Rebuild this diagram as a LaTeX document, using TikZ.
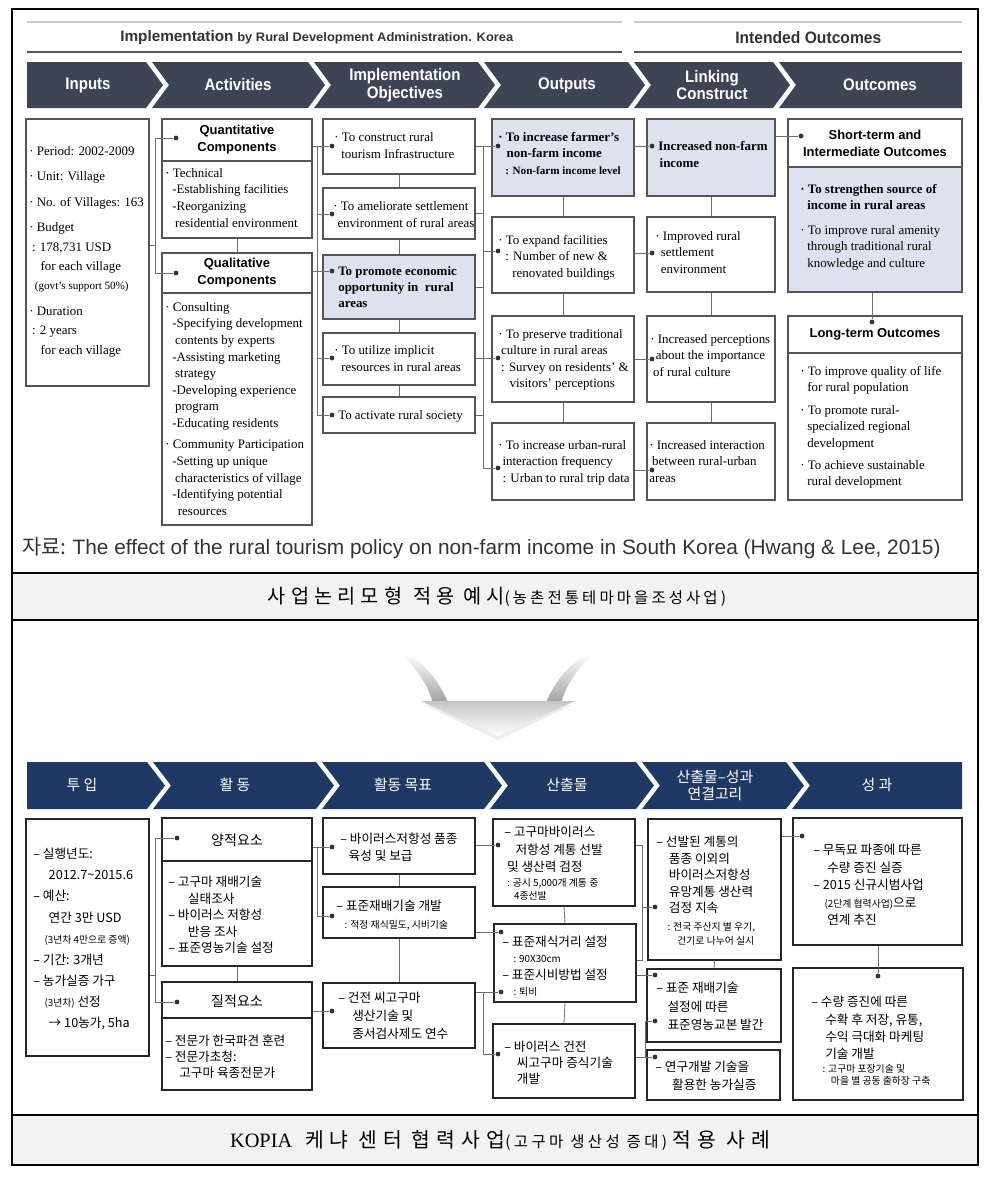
\documentclass[tikz,border=0pt]{standalone}
\usepackage{fontspec}
\setmainfont{Liberation Serif}
\newfontfamily\sansf{Liberation Sans}
\newfontfamily\hdrf[FakeStretch=0.9]{Liberation Sans}
\newfontfamily\krf{Noto Sans CJK KR}
\newfontfamily\krA[LetterSpace=26]{Noto Sans CJK KR}
\newfontfamily\krB[LetterSpace=20]{Noto Sans CJK KR}
\newfontfamily\krC[LetterSpace=30]{Noto Sans CJK KR}
\newfontfamily\krD[LetterSpace=22]{Noto Sans CJK KR}
\usetikzlibrary{fit,calc}
\definecolor{bannerA}{HTML}{3D4453}
\definecolor{bannerB}{HTML}{1F3964}
\definecolor{lblue}{HTML}{DCE3EE}
\definecolor{bordA}{HTML}{555555}
\definecolor{bordB}{HTML}{262626}
\definecolor{capgray}{HTML}{F2F2F2}
\definecolor{conA}{HTML}{6E6E6E}
\definecolor{ttlc}{HTML}{333333}
\newcommand\fsz[2]{\fontsize{#1}{#2}\selectfont}
\begin{document}
\begin{tikzpicture}[x=0.025cm,y=-0.025cm,
  boxA/.style={draw=bordA,line width=1pt,inner sep=0pt},
  boxB/.style={draw=bordB,line width=0.85pt,inner sep=0pt},
  con/.style={draw=conA,line width=0.6pt},
  dotn/.style={circle,fill=black!80,inner sep=0pt,minimum size=3.4pt},
  tx/.style={inner sep=0pt,align=left,anchor=north west},
  tA/.style={tx,font=\fsz{9.2}{11.8}},
  hA/.style={inner sep=0pt,align=center,font=\sansf\bfseries\fsz{9.2}{12.2}},
  kA/.style={tx,font=\krf\fsz{9}{13.8}},
  kH/.style={inner sep=0pt,font=\krf\fsz{10}{12}},
  bnA/.style={inner sep=0pt,align=center,text=white,font=\hdrf\bfseries\fsz{11.9}{12.5}},
  bnB/.style={inner sep=0pt,align=center,text=white,font=\krf\fsz{10.6}{12}}]
\useasboundingbox (0,0) rectangle (1000,1177);

% ---------- frame and caption bands ----------
\fill[capgray] (12,573) rectangle (978,620);
\fill[capgray] (12,1115) rectangle (978,1165);
\draw[line width=0.9pt] (12,9) rectangle (978,1165);
\draw[line width=0.9pt] (12,573) -- (978,573);
\draw[line width=0.9pt] (12,620) -- (978,620);
\draw[line width=0.9pt] (12,1115) -- (978,1115);

% ---------- top header ----------
\draw[line width=1.4pt,gray!40] (27,22) -- (622,22) (634,22) -- (962,22);
\draw[line width=1.1pt,gray!70!black] (27,52) -- (622,52) (634,52) -- (962,52);
\node[inner sep=0pt,anchor=base west,text=ttlc] (ttl1) at (120,41) {\resizebox{2.83cm}{0.275cm}{\sansf\bfseries Implementation}};
\node[inner sep=0pt,anchor=base west,text=ttlc] (ttl2) at (237,41) {\resizebox{6.9cm}{0.225cm}{\sansf\bfseries by Rural Development Administration. Korea}};
\node[inner sep=0pt,anchor=base west,text=ttlc] (ttl3) at (735,43) {\resizebox{3.65cm}{0.3cm}{\sansf\bfseries Intended Outcomes}};

% ---------- top banner ----------
\fill[bannerA] (27,62) -- (146,62) -- (163,85) -- (146,108) -- (27,108) -- cycle;
\fill[bannerA] (152,62) -- (308,62) -- (325,85) -- (308,108) -- (152,108) -- (169,85) -- cycle;
\fill[bannerA] (314,62) -- (478,62) -- (495,85) -- (478,108) -- (314,108) -- (331,85) -- cycle;
\fill[bannerA] (484,62) -- (628,62) -- (645,85) -- (628,108) -- (484,108) -- (501,85) -- cycle;
\fill[bannerA] (634,62) -- (773,62) -- (790,85) -- (773,108) -- (634,108) -- (651,85) -- cycle;
\fill[bannerA] (779,62) -- (962,62) -- (962,108) -- (779,108) -- (796,85) -- cycle;
\node[bnA] (h1) at (88,85) {Inputs};
\node[bnA] (h2) at (238,85) {Activities};
\node[bnA] (h3) at (405,85) {Implementation\\Objectives};
\node[bnA] (h4) at (567,85) {Outputs};
\node[bnA] (h5) at (712,85) {Linking\\Construct};
\node[bnA] (h6) at (880,85) {Outcomes};

% ---------- top boxes ----------
\node[boxA,fit={(26,119) (149,386)}] (in1) {};
\node[boxA,fit={(162,119) (312,238)}] (q1) {};
\node[boxA,fit={(162,253) (312,525)}] (q2) {};
\draw[bordA,line width=1pt] (q1.west|-0,161) -- (q1.east|-0,161);
\draw[bordA,line width=1pt] (q2.west|-0,293) -- (q2.east|-0,293);

\node[boxA,fit={(323,119) (475,174)}] (o1) {};
\node[boxA,fit={(323,188) (475,239)}] (o2) {};
\node[boxA,fill=lblue,fit={(323,255) (475,319)}] (o3) {};
\node[boxA,fit={(323,333) (475,385)}] (o4) {};
\node[boxA,fit={(323,397) (475,433)}] (o5) {};

\node[boxA,fill=lblue,fit={(492,119) (634,196)}] (p1) {};
\node[boxA,fit={(492,217) (634,293)}] (p2) {};
\node[boxA,fit={(492,316) (634,402)}] (p3) {};
\node[boxA,fit={(492,423) (634,500)}] (p4) {};

\node[boxA,fill=lblue,fit={(647,119) (775,196)}] (l1) {};
\node[boxA,fit={(647,217) (775,292)}] (l2) {};
\node[boxA,fit={(647,316) (775,402)}] (l3) {};
\node[boxA,fit={(647,423) (775,500)}] (l4) {};

\fill[lblue] (788,167) rectangle (962,292);
\node[boxA,fit={(788,119) (962,292)}] (s1) {};
\node[boxA,fit={(788,316) (962,500)}] (s2) {};
\draw[bordA,line width=1pt] (s1.west|-0,167) -- (s1.east|-0,167);
\draw[bordA,line width=1pt] (s2.west|-0,353) -- (s2.east|-0,353);

% ---------- top texts ----------
\node[tA,font=\fsz{9.2}{13.8}] (in1t) at (29,146) {· Period: 2002-2009\\[4.3pt]· Unit: Village\\[4.3pt]· No. of Villages: 163\\[4.3pt]· Budget\\\hspace*{2pt}: 178,731 USD\\\hspace*{8pt}for each village\\\hspace*{4pt}{\fsz{7.9}{9}(govt’s support 50\%)}\\[4.3pt]· Duration\\\hspace*{2pt}: 2 years\\\hspace*{8pt}for each village};
\node[hA] (q1h) at (237,140) {Quantitative\\Components};
\node[tA] (q1t) at (165,168) {· Technical\\\hspace*{5pt}-Establishing facilities\\\hspace*{5pt}-Reorganizing\\\hspace*{7pt}residential environment};
\node[hA] (q2h) at (237,273) {Qualitative\\Components};
\node[tA] (q2t) at (165,302) {· Consulting\\\hspace*{5pt}-Specifying development\\\hspace*{7pt}contents by experts\\\hspace*{5pt}-Assisting marketing\\\hspace*{7pt}strategy\\\hspace*{5pt}-Developing experience\\\hspace*{7pt}program\\\hspace*{5pt}-Educating residents\\[3.5pt]· Community Participation\\\hspace*{5pt}-Setting up unique\\\hspace*{7pt}characteristics of village\\\hspace*{5pt}-Identifying potential\\\hspace*{9pt}resources};

\node[tA,font=\fsz{9.2}{12}] (o1t) at (334,132) {· To construct rural\\\hspace*{5pt}tourism Infrastructure};
\node[tA,font=\fsz{9.2}{12}] (o2t) at (333,201) {· To ameliorate settlement\\\hspace*{3pt}environment of rural areas};
\node[tA,font=\bfseries\fsz{9.2}{11.6}] (o3t) at (338,266) {To promote economic\\opportunity in\ \ rural\\areas};
\node[tA,font=\fsz{9.2}{12}] (o4t) at (334,345) {· To utilize implicit\\\hspace*{5pt}resources in rural areas};
\node[tA] (o5t) at (338,410) {To activate rural society};

\node[tA,font=\bfseries\fsz{9.2}{11.7}] (p1t) at (498,132) {· To increase farmer’s\\\hspace*{6pt}non-farm income\\\hspace*{5pt}{\fsz{7.9}{9}: Non-farm income level}};
\node[tA,font=\fsz{9.2}{11.7}] (p2t) at (498,235) {· To expand facilities\\\hspace*{5pt}: Number of new \&\\\hspace*{10pt}renovated buildings};
\node[tA,font=\fsz{9.2}{11.7}] (p3t) at (498,329) {· To preserve traditional\\\hspace*{2pt}culture in rural areas\\\hspace*{2pt}: Survey on residents’ \&\\\hspace*{8pt}visitors’ perceptions};
\node[tA,font=\fsz{9.2}{11.7}] (p4t) at (498,440) {· To increase urban-rural\\\hspace*{3pt}interaction frequency\\\hspace*{3pt}: Urban to rural trip data};

\node[tA,font=\bfseries\fsz{9.2}{12}] (l1t) at (658,141) {Increased non-farm\\\hspace*{1pt}income};
\node[tA,font=\fsz{9.2}{11.7}] (l2t) at (655,231) {· Improved rural\\\hspace*{4pt}settlement\\\hspace*{4pt}environment};
\node[tA,font=\fsz{9.2}{11.7}] (l3t) at (650,334) {· Increased perceptions\\\hspace*{4pt}about the importance\\\hspace*{2pt}of rural culture};
\node[tA,font=\fsz{9.2}{11.7}] (l4t) at (649,440) {· Increased interaction\\\hspace*{2pt}between rural-urban\\areas};

\node[hA] (s1h) at (875,143) {Short-term and\\Intermediate Outcomes};
\node[tA] (s1t) at (800,184) {\textbf{· To strengthen source of}\\\hspace*{5pt}\textbf{income in rural areas}\\[5.5pt]· To improve rural amenity\\\hspace*{5pt}through traditional rural\\\hspace*{5pt}knowledge and culture};
\node[hA] (s2h) at (875,334) {Long-term Outcomes};
\node[tA] (s2t) at (800,366) {· To improve quality of life\\\hspace*{5pt}for rural population\\[3.9pt]· To promote rural-\\\hspace*{5pt}specialized regional\\\hspace*{5pt}development\\[3.9pt]· To achieve sustainable\\\hspace*{5pt}rural development};

% ---------- top connectors ----------
\node[dotn] (qd1) at (176,138) {};
\node[dotn] (qd2) at (176,273) {};
\coordinate (inj) at (155,245);
\draw[con] (in1.east|-inj) -- (inj);
\draw[con] (inj|-qd1) -- (inj|-qd2);
\draw[con] (inj|-qd1) -- (qd1);
\draw[con] (inj|-qd2) -- (qd2);
\draw[con] (q1.south) -- (q2.north);

\node[dotn] (od1) at (332,146) {};
\node[dotn] (od2) at (332,214) {};
\node[dotn] (od3) at (332,271) {};
\node[dotn] (od4) at (332,358) {};
\node[dotn] (od5) at (332,415) {};
\coordinate (bA) at (317,0);
\draw[con] (q1.east|-od1) -- (od1);
\draw[con] (bA|-od1) -- (bA|-od5) -- (od5);
\draw[con] (bA|-od2) -- (od2);
\draw[con] (q2.east|-od3) -- (od3);
\draw[con] (bA|-od4) -- (od4);
\draw[con] (o1.south) -- (o2.north);
\draw[con] (o2.south) -- (o3.north);
\draw[con] (o3.south) -- (o4.north);
\draw[con] (o4.south) -- (o5.north);

\node[dotn] (pd1) at (498,146) {};
\node[dotn] (pd2) at (498,251) {};
\node[dotn] (pd3) at (498,358) {};
\node[dotn] (pd4) at (498,468) {};
\coordinate (bB) at (483,0);
\draw[con] (o1.east|-pd1) -- (pd1);
\draw[con] (bB|-pd1) -- (bB|-pd4) -- (pd4);
\draw[con] (o2.east) -- (bB|-o2.east);
\draw[con] (o3.east) -- (bB|-o3.east);
\draw[con] (o4.east|-pd3) -- (pd3);
\draw[con] (o5.east) -- (bB|-o5.east);
\draw[con] (bB|-pd2) -- (pd2);
\draw[con] (p1.south) -- (p2.north);
\draw[con] (p2.south) -- (p3.north);
\draw[con] (p3.south) -- (p4.north);

\node[dotn] (ld1) at (652,146) {};
\node[dotn] (ld2) at (652,253) {};
\node[dotn] (ld3) at (652,359) {};
\node[dotn] (ld4) at (652,470) {};
\draw[con] (p1.east|-ld1) -- (ld1);
\draw[con] (p2.east|-ld2) -- (ld2);
\draw[con] (p3.east|-ld3) -- (ld3);
\draw[con] (p4.east|-ld4) -- (ld4);
\draw[con] (l1.south) -- (l2.north);
\draw[con] (l2.south) -- (l3.north);
\draw[con] (l3.south) -- (l4.north);

\node[dotn] (sd1) at (801,136) {};
\node[dotn] (sd2) at (872,322) {};
\draw[con] (l1.east|-sd1) -- (sd1);
\draw[con] (s1.south-|sd2) -- (sd2);

% ---------- source and caption ----------
\node[inner sep=0pt,anchor=west,text=ttlc] (src) at (22,548) {\resizebox{22.95cm}{!}{\krf\fsz{12}{14}자료: \sansf The effect of the rural tourism policy on non-farm income in South Korea (Hwang \& Lee, 2015)}};
\node[inner sep=0pt] (cap1) at (497,597) {\krA\fsz{14}{16}사업논리모형\hspace{8pt}적용\hspace{6pt}예시{\krB\fsz{11}{12}(농촌전통테마마을조성사업)}};

% ---------- arrow ----------
\fill[gray!15] (424,705) -- (572,705) -- (498,740) -- cycle;
\shade[top color=white,bottom color=gray!75] (404,657) .. controls (418,670) and (428,686) .. (433,703) -- (448,703) .. controls (441,684) and (426,665) .. (408,654) -- cycle;
\shade[top color=white,bottom color=gray!75] (590,657) .. controls (576,670) and (566,686) .. (561,703) -- (546,703) .. controls (553,684) and (568,665) .. (586,654) -- cycle;
\shade[top color=gray!45,bottom color=white] (421,701) -- (575,701) -- (498,736) -- cycle;

% ---------- bottom banner ----------
\fill[bannerB] (27,762) -- (147,762) -- (165,785.5) -- (147,809) -- (27,809) -- cycle;
\fill[bannerB] (153,762) -- (316,762) -- (334,785.5) -- (316,809) -- (153,809) -- (171,785.5) -- cycle;
\fill[bannerB] (322,762) -- (484,762) -- (502,785.5) -- (484,809) -- (322,809) -- (340,785.5) -- cycle;
\fill[bannerB] (490,762) -- (636,762) -- (654,785.5) -- (636,809) -- (490,809) -- (508,785.5) -- cycle;
\fill[bannerB] (642,762) -- (786,762) -- (804,785.5) -- (786,809) -- (642,809) -- (660,785.5) -- cycle;
\fill[bannerB] (792,762) -- (962,762) -- (962,809) -- (792,809) -- (810,785.5) -- cycle;
\node[bnB] (g1) at (82,785) {투 입};
\node[bnB] (g2) at (235,785) {활 동};
\node[bnB] (g3) at (403,785) {활동 목표};
\node[bnB] (g4) at (567,785) {산출물};
\node[bnB] (g5) at (715,785) {산출물–성과\\연결고리};
\node[bnB] (g6) at (877,785) {성 과};

% ---------- bottom boxes ----------
\node[boxB,fit={(26,819) (149,1056)}] (ib) {};
\node[boxB,fit={(162,818) (312,966)}] (kq1) {};
\node[boxB,fit={(162,982) (312,1090)}] (kq2) {};
\draw[bordB,line width=0.85pt] (kq1.west|-0,861) -- (kq1.east|-0,861);
\draw[bordB,line width=0.85pt] (kq2.west|-0,1018) -- (kq2.east|-0,1018);
\node[boxB,fit={(323,818) (475,874)}] (ko1) {};
\node[boxB,fit={(323,887) (475,938)}] (ko2) {};
\node[boxB,fit={(323,983) (475,1048)}] (ko3) {};
\node[boxB,fit={(493,819) (635,906)}] (kp1) {};
\node[boxB,fit={(494,924) (636,1002)}] (kp2) {};
\node[boxB,fit={(493,1024) (635,1098)}] (kp3) {};
\node[boxB,fit={(648,819) (781,960)}] (kl1) {};
\node[boxB,fit={(647,969) (781,1042)}] (kl2) {};
\node[boxB,fit={(647,1050) (780,1100)}] (kl3) {};
\node[boxB,fit={(793,818) (962,945)}] (kc1) {};
\node[boxB,fit={(793,968) (963,1100)}] (kc2) {};

% ---------- bottom texts ----------
\node[kA,font=\krf\fsz{9}{15}] (ibt) at (33,848) {– 실행년도:\\\hspace*{11pt}2012.7\textasciitilde 2015.6\\– 예산:\\\hspace*{11pt}연간 3만 USD\\\hspace*{8pt}{\fsz{7}{9}(3년차 4만으로 증액)}\\– 기간: 3개년\\– 농가실증 가구\\\hspace*{8pt}{\fsz{7}{9}(3년차)} 선정\\\hspace*{11pt}→ 10농가, 5ha};
\node[kH] (kq1h) at (237,840) {양적요소};
\node[kH] (kq2h) at (237,1001) {질적요소};
\node[kA,font=\krf\fsz{9}{11.7}] (kq1t) at (168,876) {– 고구마 재배기술\\\hspace*{14pt}실태조사\\– 바이러스 저항성\\\hspace*{14pt}반응 조사\\– 표준영농기술 설정};
\node[kA,font=\krf\fsz{9}{11.3}] (kq2t) at (165,1035) {– 전문가 한국파견 훈련\\– 전문가초청:\\\hspace*{10pt}고구마 육종전문가};

\node[kA,font=\krf\fsz{9}{12}] (ko1t) at (340,833) {– 바이러스저항성 품종\\\hspace*{6pt}육성 및 보급};
\node[kA,font=\krf\fsz{9}{12.7}] (ko2t) at (336,900) {– 표준재배기술 개발\\\hspace*{6pt}{\fsz{7}{9}: 적정 재식밀도, 시비기술}};
\node[kA,font=\krf\fsz{9}{12.7}] (ko3t) at (338,992) {– 건전 씨고구마\\\hspace*{10pt}생산기술 및\\\hspace*{10pt}종서검사제도 연수};

\node[kA,font=\krf\fsz{9}{12.4}] (kp1t) at (504,826) {– 고구마바이러스\\\hspace*{8pt}저항성 계통 선발\\\hspace*{2pt}및 생산력 검정\\[-1.8pt]\hspace*{2pt}{\fsz{7}{9}: 공시 5,000개 계통 중}\\[-3.2pt]\hspace*{7pt}{\fsz{7}{9}4종선발}};
\node[kA,font=\krf\fsz{9}{11.5}] (kp2t) at (502,936) {– 표준재식거리 설정\\\hspace*{8pt}{\fsz{7}{9}: 90X30cm}\\– 표준시비방법 설정\\\hspace*{8pt}{\fsz{7}{9}: 퇴비}};
\node[kA,font=\krf\fsz{9}{11.4}] (kp3t) at (504,1041) {– 바이러스 건전\\\hspace*{9pt}씨고구마 증식기술\\\hspace*{9pt}개발};

\node[kA,font=\krf\fsz{9}{11.7}] (kl1t) at (656,836) {– 선발된 계통의\\\hspace*{9pt}품종 이외의\\\hspace*{9pt}바이러스저항성\\\hspace*{9pt}유망계통 생산력\\\hspace*{9pt}검정 지속\\[1pt]\hspace*{8pt}{\fsz{7}{9}: 전국 주산지 별 우기,}\\[-1.8pt]\hspace*{15pt}{\fsz{7}{9}건기로 나누어 실시}};
\node[kA,font=\krf\fsz{9}{13.1}] (kl2t) at (656,982) {– 표준 재배기술\\\hspace*{8pt}설정에 따른\\\hspace*{8pt}표준영농교본 발간};
\node[kA,font=\krf\fsz{9}{12.5}] (kl3t) at (655,1061) {– 연구개발 기술을\\\hspace*{12pt}활용한 농가실증};

\node[kA,font=\krf\fsz{9}{12.4}] (kc1t) at (813,844) {– 무독묘 파종에 따른\\\hspace*{10pt}수량 증진 실증\\– 2015 신규시범사업\\\hspace*{8pt}{\fsz{7}{9}(2단계 협력사업)}으로\\\hspace*{10pt}연계 추진};
\node[kA,font=\krf\fsz{9}{12.3}] (kc2t) at (811,996) {– 수량 증진에 따른\\\hspace*{10pt}수확 후 저장, 유통,\\\hspace*{10pt}수익 극대화 마케팅\\\hspace*{10pt}기술 개발\\[-2.4pt]\hspace*{8pt}{\fsz{7}{9}: 고구마 포장기술 및}\\[-3.8pt]\hspace*{14pt}{\fsz{7}{9}마을 별 공동 출하장 구축}};

% ---------- bottom connectors ----------
\node[dotn] (kd1) at (177,838) {};
\node[dotn] (kd2) at (177,1002) {};
\coordinate (ibj) at (155,975);
\draw[con] (ib.east|-ibj) -- (ibj);
\draw[con] (ibj|-kd1) -- (ibj|-kd2);
\draw[con] (ibj|-kd1) -- (kd1);
\draw[con] (ibj|-kd2) -- (kd2);
\draw[con] (kq1.south) -- (kq2.north);

\node[dotn] (kod1) at (332,847) {};
\node[dotn] (kod2) at (332,916) {};
\node[dotn] (kod3) at (332,1011) {};
\coordinate (kbA) at (317,0);
\draw[con] (kq1.east|-kod1) -- (kod1);
\draw[con] (kbA|-kod1) -- (kbA|-kod2) -- (kod2);
\draw[con] (kq2.east|-kod3) -- (kod3);
\draw[con] (ko1.south) -- (ko2.north);
\draw[con] (ko2.south) -- (ko3.north);

\node[dotn] (kpd1) at (498,845) {};
\node[dotn] (kpd2) at (501,932) {};
\node[dotn] (kpd3) at (501,992) {};
\node[dotn] (kpd4) at (498,1054) {};
\coordinate (kbB) at (483,0);
\draw[con] (ko1.east|-kpd1) -- (kpd1);
\draw[con] (ko2.east|-kpd2) -- (kpd2);
\draw[con] (ko3.east|-kpd3) -- (kpd3);
\draw[con] (kbB|-kpd3) -- (kbB|-kpd4) -- (kpd4);
\draw[con] (kp1.south) -- (kp2.north);
\draw[con] (kp2.south) -- (kp3.north);

\node[dotn] (kld1) at (655,907) {};
\node[dotn] (kld2) at (655,975) {};
\node[dotn] (kld3) at (655,1021) {};
\node[dotn] (kld4) at (655,1057) {};
\coordinate (kbC) at (642,960);
\coordinate (kbD) at (645,0);
\draw[con] (kp1.east|-kpd1) -- (kbC|-kpd1) -- (kbC) -- (kp2.east|-kbC);
\draw[con] (kbC|-kld1) -- (kld1);
\draw[con] (kp2.east|-kld2) -- (kld2);
\draw[con] (kp3.east|-kld4) -- (kld4);
\draw[con] (kbD|-kld4) -- (kbD|-kld3) -- (kld3);
\draw[con] (kl1.south) -- (kl2.north);

\node[dotn] (kcd1) at (802,836) {};
\node[dotn] (kcd2) at (878,976) {};
\draw[con] (kl1.east|-kcd1) -- (kcd1);
\draw[con] (kc1.south-|kcd2) -- (kcd2);

% ---------- bottom caption ----------
\node[inner sep=0pt] (cap2) at (500,1140) {\fsz{14.5}{16}KOPIA\hspace{9pt}\krC 케냐\hspace{7pt}센터\hspace{7pt}협력사업{\krD\fsz{11}{12}(고구마 생산성 증대)}\hspace{4pt}적용\hspace{7pt}사례};
\end{tikzpicture}
\end{document}
